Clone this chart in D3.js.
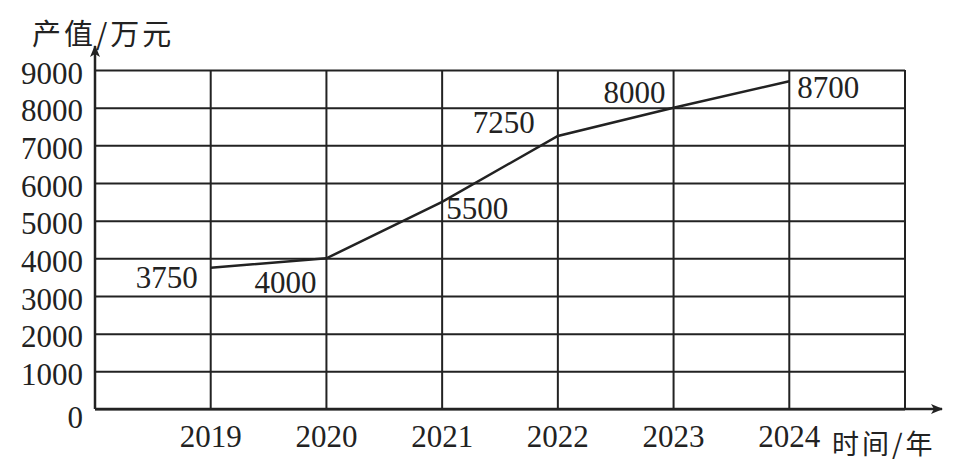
<!DOCTYPE html>
<html>
<head>
<meta charset="utf-8">
<script src="https://d3js.org/d3.v7.min.js"></script>
<style>
body { margin: 0; background: #fff; }
</style>
</head>
<body>
<svg id="chart" width="967" height="462"></svg>
<script>
// data
var years = [2019, 2020, 2021, 2022, 2023, 2024];
var values = [3750, 4000, 5500, 7250, 8000, 8700];
var yTicks = [0, 1000, 2000, 3000, 4000, 5000, 6000, 7000, 8000, 9000];
var yTitle = "产值/万元";
var xTitle = "时间/年";

// where each value label sits relative to its point (anchor, dx, dy)
var labelPos = [
  ["end", -13, 20], ["end", -10, 35], ["start", 4, 17],
  ["start", -85, -3], ["end", -8, -5], ["start", 8, 17]
];

var ink = "#222";
var serif = "'Liberation Serif', 'Times New Roman', serif";
var cjk = "'Noto Sans CJK SC', sans-serif";
var svg = d3.select("#chart");

var x = d3.scaleLinear().domain([0, years.length + 1]).range([95, 905]);
var y = d3.scaleLinear().domain([0, 9000]).range([409, 70]);

function numText(sel) {
  sel.style("font-family", serif).style("font-size", "31px").style("fill", ink);
}

// horizontal grid + y labels
var yAxis = svg.append("g")
    .attr("transform", "translate(" + x(0) + ",0)")
    .call(d3.axisLeft(y).tickValues(yTicks).tickFormat(d3.format("d"))
      .tickSize(-(x(years.length + 1) - x(0))).tickPadding(12));
yAxis.select(".domain").remove();
yAxis.selectAll(".tick line").attr("stroke", ink).attr("stroke-width", 2);
yAxis.selectAll(".tick text").call(numText)
    .attr("dy", function(d) { return d === 0 ? "0.6em" : "0.42em"; });

// vertical grid lines
var vIdx = d3.range(1, years.length + 2);
svg.append("g").selectAll("line")
  .data(vIdx).enter().append("line")
    .attr("x1", function(d) { return x(d); })
    .attr("x2", function(d) { return x(d); })
    .attr("y1", y(0)).attr("y2", y(9000))
    .attr("stroke", ink).attr("stroke-width", 2);

// x labels
svg.append("g").selectAll("text")
  .data(years).enter().append("text")
    .call(numText)
    .attr("x", function(d, i) { return x(i + 1); })
    .attr("y", 447)
    .attr("text-anchor", "middle")
    .text(function(d) { return d; });

// arrows
svg.append("defs").append("marker")
    .attr("id", "arr").attr("viewBox", "0 0 12 10")
    .attr("refX", 11).attr("refY", 5)
    .attr("markerWidth", 12).attr("markerHeight", 10)
    .attr("markerUnits", "userSpaceOnUse")
    .attr("orient", "auto")
  .append("path").attr("d", "M0,0 L12,5 L0,10 L3,5 Z").attr("fill", ink);

svg.append("line")
    .attr("x1", x(0)).attr("x2", x(0)).attr("y1", y(0)).attr("y2", 46)
    .attr("stroke", ink).attr("stroke-width", 2.5).attr("marker-end", "url(#arr)");
svg.append("line")
    .attr("x1", x(0)).attr("x2", 942).attr("y1", y(0)).attr("y2", y(0))
    .attr("stroke", ink).attr("stroke-width", 2.5).attr("marker-end", "url(#arr)");

// titles
svg.append("text").attr("x", 32).attr("y", 45)
    .style("font-family", cjk).style("font-size", "29px").style("letter-spacing", "3px")
    .style("fill", ink)
    .text(yTitle);
svg.append("text").attr("x", 832).attr("y", 454)
    .style("font-family", cjk).style("font-size", "27px").style("letter-spacing", "3px")
    .style("fill", ink)
    .text(xTitle);

// line
var line = d3.line()
    .x(function(d, i) { return x(i + 1); })
    .y(function(d) { return y(d); });
svg.append("path").datum(values)
    .attr("d", line)
    .attr("fill", "none").attr("stroke", ink).attr("stroke-width", 2.5);

// value labels
svg.append("g").selectAll("text")
  .data(values).enter().append("text")
    .call(numText)
    .attr("x", function(d, i) { return x(i + 1) + labelPos[i][1]; })
    .attr("y", function(d, i) { return y(d) + labelPos[i][2]; })
    .attr("text-anchor", function(d, i) { return labelPos[i][0]; })
    .text(function(d) { return d; });
</script>
</body>
</html>
